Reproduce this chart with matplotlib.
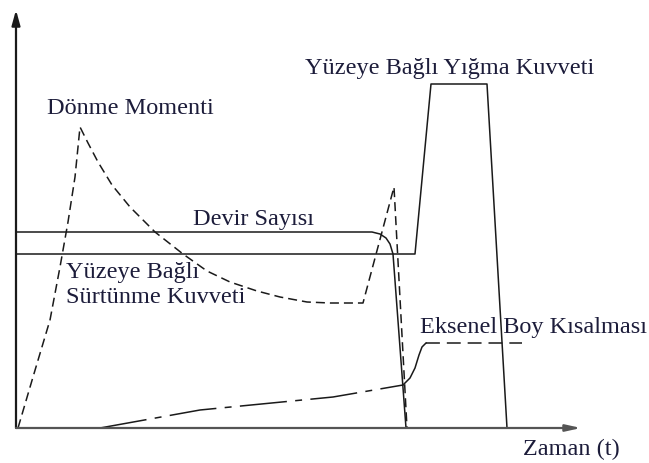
import matplotlib
matplotlib.use("Agg")
import matplotlib.pyplot as plt

plt.rcParams['lines.scale_dashes'] = False
plt.rcParams['font.family'] = ['Liberation Serif', 'DejaVu Serif']

# Schematic friction-welding cycle (arbitrary time / magnitude units)
# Rotational speed
speed_t = [0.0, 35.6, 36.4, 37.0, 37.4, 37.7, 39.0]
speed_v = [19.6, 19.6, 19.4, 19.0, 18.4, 17.4, 0.0]

# Friction force followed by upset force
force_t = [0.0, 39.9, 41.5, 47.1, 49.1]
force_v = [17.4, 17.4, 34.4, 34.4, 0.0]

# Torque: initial peak, decay to a steady level, second peak, drop to zero
torque_t = [0.2, 1.7, 3.4, 4.4, 5.2, 5.9, 6.4,
            7.2, 8.2, 9.6, 11.4, 13.9, 16.7, 19.1, 21.4, 24.1, 26.4,
            29.1, 31.4, 34.7, 37.8, 39.1]
torque_v = [0.0, 5.1, 10.8, 16.1, 20.6, 25.1, 30.1,
            28.5, 26.6, 24.3, 22.1, 19.6, 17.4, 15.7, 14.6, 13.7, 13.1,
            12.6, 12.5, 12.5, 24.1, 0.0]

# Axial shortening: slow stage, sharp rise, final plateau
short_t1 = [8.4, 18.4, 31.7, 38.7]
short_v1 = [0.0, 1.8, 3.1, 4.3]
short_t2 = [38.7, 39.4, 39.9, 40.3, 40.6, 41.0]
short_v2 = [4.3, 5.0, 6.0, 7.3, 8.1, 8.5]
short_t3 = [41.0, 50.6]
short_v3 = [8.5, 8.5]

fig = plt.figure(figsize=(6.49, 4.63), dpi=100)
ax = fig.add_axes([0, 0, 1, 1])
ax.set_xlim(-1.6, 63.3)
ax.set_ylim(-3.5, 42.8)
ax.axis('off')

ink = '#1a1a1a'
lw = 1.1

ax.plot(speed_t, speed_v, color=ink, lw=lw)
ax.plot(force_t, force_v, color=ink, lw=lw)
ax.plot(torque_t, torque_v, color=ink, lw=lw, dashes=(6.5, 3.6))
ax.plot(short_t1, short_v1, color=ink, lw=lw, dashes=(34, 6, 5, 6))
ax.plot(short_t2, short_v2, color=ink, lw=lw)
ax.plot(short_t3, short_v3, color=ink, lw=lw, dashes=(10, 5))

# Axes with arrow heads
ax.annotate('', xy=(0, 41.8), xytext=(0, 0),
            arrowprops=dict(arrowstyle='-|>,head_length=0.9,head_width=0.25',
                            color=ink, lw=1.6, shrinkA=0, shrinkB=0))
ax.annotate('', xy=(56.5, 0), xytext=(0, 0),
            arrowprops=dict(arrowstyle='-|>,head_length=0.9,head_width=0.2',
                            color='#555555', lw=1.6, shrinkA=0, shrinkB=0))

txt = dict(color='#1c1c3a', fontsize=17.5)
ax.text(3.1, 31.9, 'Dönme Momenti', ha='left', va='center', **txt)
ax.text(17.7, 20.8, 'Devir Sayısı', ha='left', va='center', **txt)
ax.text(5.0, 14.3, 'Yüzeye Bağlı\nSürtünme Kuvveti', ha='left', va='center',
        linespacing=1.28, **txt)
ax.text(28.9, 35.9, 'Yüzeye Bağlı Yığma Kuvveti', ha='left', va='center', **txt)
ax.text(40.4, 10.1, 'Eksenel Boy Kısalması', ha='left', va='center', **txt)
ax.text(50.7, -2.1, 'Zaman (t)', ha='left', va='center', **txt)

fig.savefig('out.png', dpi=100)
